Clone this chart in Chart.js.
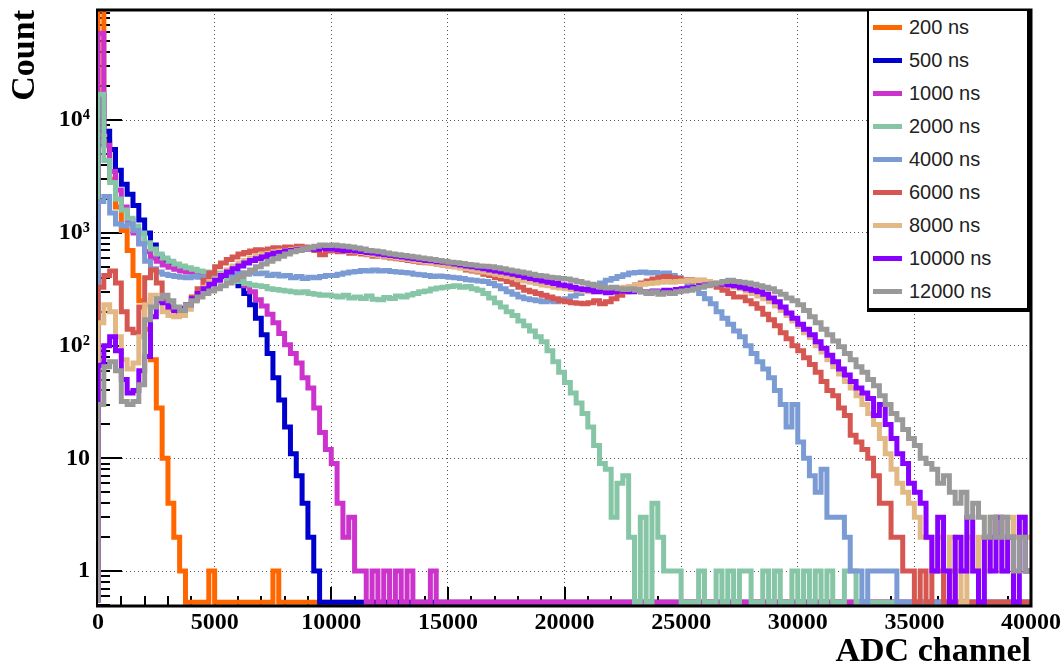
<!DOCTYPE html>
<html>
<head>
<meta charset="utf-8">
<script src="https://cdn.jsdelivr.net/npm/chart.js@4.4.1/dist/chart.umd.min.js"></script>
<style>
  html, body { margin: 0; padding: 0; background: #fff; }
  #wrap { position: relative; width: 1064px; height: 669px; }
  #legend {
    position: absolute; left: 867px; top: 9px; width: 158px; height: 297px;
    border-style: solid; border-color: #000; border-width: 2px 4px 4px 2px;
    background: #fff; font-family: "Liberation Sans", Arial, sans-serif;
    font-size: 20px; color: #222;
  }
  .item { height: 33px; display: flex; align-items: center; white-space: nowrap; }
  .swatch { width: 29px; height: 5px; margin-left: 4px; margin-right: 7px; flex: none; }
</style>
</head>
<body>
<div id="wrap">
  <canvas id="chart" width="1064" height="669"></canvas>
  <div id="legend"></div>
</div>
<script>
// ---------------- data ----------------
const binWidth = 250;          // ADC channels per histogram bin
const xMin = 0, xMax = 40000;
const yAxisMin = 0.5, yAxisMax = 95000;
const emptyBinLevel = 0.53;    // ROOT draws empty bins on the bottom of the frame

const seriesLabels = ['200 ns', '500 ns', '1000 ns', '2000 ns', '4000 ns', '6000 ns', '8000 ns', '10000 ns', '12000 ns'];
const seriesColors = ['#ff6600', '#0000cc', '#cc33cc', '#86c5a5', '#7b9bd5', '#d65752', '#e2b985', '#8800ff', '#999999'];

const xTickLabels = [0, 5000, 10000, 15000, 20000, 25000, 30000, 35000, 40000];
const yDecadeLabels = { 1: '1', 10: '10', 100: '10\u00B2', 1000: '10\u00B3', 10000: '10\u2074' };

const s200 = [
150000,6500,3000,1700,1050,700,420,250,140,75,28,10,4,2,1,0,0,0,0,1,
0,0,0,0,0,0,0,0,0,0,1,0,0,0,0,0,0,0,0,0,
0,0,0,0,0,0,0,0,0,0,0,0,0,0,0,0,0,0,0,0,
0,0,0,0,0,0,0,0,0,0,0,0,0,0,0,0,0,0,0,0,
0,0,0,0,0,0,0,0,0,0,0,0,0,0,0,0,0,0,0,0,
0,0,0,0,0,0,0,0,0,0,0,0,0,0,0,0,0,0,0,0,
0,0,0,0,0,0,0,0,0,0,0,0,0,0,0,0,0,0,0,0,
0,0,0,0,0,0,0,0,0,0,0,0,0,0,0,0,0,0,0,0];

const s500 = [
17000,8000,5500,3600,2700,2200,1750,1300,1000,780,620,570,530,500,480,465,450,440,430,425,
420,410,400,380,340,290,230,175,125,85,52,33,19,11,7,4,2,1,0,0,
0,0,0,0,0,0,0,0,0,0,0,0,0,0,0,0,0,0,0,0,
0,0,0,0,0,0,0,0,0,0,0,0,0,0,0,0,0,0,0,0,
0,0,0,0,0,0,0,0,0,0,0,0,0,0,0,0,0,0,0,0,
0,0,0,0,0,0,0,0,0,0,0,0,0,0,0,0,0,0,0,0,
0,0,0,0,0,0,0,0,0,0,0,0,0,0,0,0,0,0,0,0,
0,0,0,0,0,0,0,0,0,0,0,0,0,0,0,0,0,0,0,0];

const s1000 = [
59000,6000,3500,2400,1700,1300,1000,800,680,600,560,520,495,475,460,450,445,440,435,430,
430,420,410,400,380,340,300,255,225,190,160,128,102,85,70,52,42,28,17,12,
9,4,2,3,1,1,0,1,0,1,0,1,0,1,0,0,0,1,0,0,
0,0,0,0,0,0,0,0,0,0,0,0,0,0,0,0,0,0,0,0,
0,0,0,0,0,0,0,0,0,0,0,0,0,0,0,0,0,0,0,0,
0,0,0,0,0,0,0,0,0,0,0,0,0,0,0,0,0,0,0,0,
0,0,0,0,0,0,0,0,0,0,0,0,0,0,0,0,0,0,0,0,
0,0,0,0,0,0,0,0,0,0,0,0,0,0,0,0,0,0,0,0];

const s2000 = [
17000,4400,2800,2000,1600,1350,1150,1000,820,720,650,600,560,530,510,490,475,460,450,445,
440,420,400,380,370,355,345,340,335,320,315,310,305,300,295,300,290,285,280,282,
275,270,280,265,270,262,275,258,255,268,262,275,270,282,290,300,305,318,325,330,
335,340,330,335,320,310,290,265,240,220,200,185,165,150,135,120,108,90,72,58,
47,38,31,25,19,13,9,8,3,6,7,2,0,3,0,4,2,1,1,1,
0,0,0,1,0,0,1,0,1,0,1,1,0,0,1,0,1,0,0,1,
0,1,0,1,0,1,0,0,1,1,0,0,0,0,0,0,0,0,0,0,
0,0,0,0,0,0,0,0,0,0,0,0,0,0,0,0,0,0,0,0];

const s4000 = [
1900,2100,1500,1200,1150,1200,1050,800,560,480,450,430,420,410,405,400,410,405,400,410,
415,420,430,425,440,430,445,435,440,420,430,415,420,400,410,395,405,400,410,420,
420,430,440,450,455,465,460,470,460,465,455,450,445,440,430,425,420,410,415,410,
405,400,395,385,380,375,370,355,340,320,300,285,270,260,255,250,245,250,245,255,
260,275,290,310,330,345,360,380,395,410,425,440,445,450,440,445,435,440,420,400,
380,350,320,290,260,235,200,175,155,135,120,100,85,72,62,52,40,30,19,30,
14,10,7,5,8,3,3,3,2,1,1,0,1,1,1,1,1,0,0,0,
0,0,0,0,0,0,0,0,0,0,0,0,0,0,0,0,0,0,0,0];

const s6000 = [
330,420,460,360,200,140,130,220,400,470,360,250,210,195,200,230,270,320,380,440,
500,540,580,610,650,670,690,710,700,720,740,730,750,740,760,750,720,700,640,690,
700,680,690,660,670,650,640,620,630,610,600,590,580,570,560,550,545,540,530,520,
510,500,490,470,460,450,430,420,400,390,370,350,330,310,300,290,280,270,260,250,
245,240,238,235,240,250,235,245,260,280,300,320,345,360,375,390,400,410,400,395,
380,385,375,380,370,350,330,310,290,270,270,250,235,215,190,170,150,130,115,100,
90,78,68,58,48,40,36,28,24,16,14,12,10,7,4,4,2,2,1,1,
0,1,0,1,1,0,1,0,0,0,0,0,0,0,0,0,0,0,0,0];

const s8000 = [
160,230,200,120,75,62,70,120,230,280,260,200,185,180,185,210,250,290,330,370,
390,430,470,510,540,570,600,620,650,660,680,690,700,710,720,730,725,740,730,735,
720,710,700,690,680,670,650,640,630,620,610,600,590,580,570,560,550,545,530,520,
510,500,490,480,470,460,450,440,430,420,410,400,385,375,365,355,345,340,330,325,
320,315,310,305,300,305,300,310,315,320,330,335,345,350,355,360,365,370,365,370,
375,380,375,380,370,360,360,350,340,330,320,305,290,275,260,245,225,205,185,165,
148,130,118,100,88,75,65,56,48,42,36,30,25,20,15,11,8,6,5,4,
3,2,2,1,2,1,2,1,0,2,1,2,1,3,2,1,3,2,3,2];

const s10000 = [
67,100,120,90,50,38,40,60,80,180,250,240,220,205,215,230,260,290,320,350,
380,420,450,480,510,540,570,590,610,640,660,670,690,700,710,720,730,715,735,725,
720,710,700,705,690,685,670,665,650,640,630,620,610,600,590,580,570,565,555,550,
540,530,520,510,500,490,480,470,460,450,440,430,420,405,395,385,375,365,355,345,
340,330,320,315,310,300,305,295,300,310,305,300,310,300,295,305,300,310,305,315,
320,325,330,340,345,350,355,350,345,340,330,320,310,300,285,265,245,220,195,175,
155,140,125,108,95,82,72,62,55,48,42,38,34,24,30,20,15,11,9,6,
5,4,2,1,3,1,0,2,1,3,1,0,2,1,3,1,2,0,3,1];

const s12000 = [
30,65,72,60,32,30,32,45,170,220,260,280,250,220,205,230,250,270,290,305,
320,340,360,385,410,440,470,500,530,560,590,620,650,680,700,720,740,760,780,775,
780,770,760,750,735,720,700,690,680,665,650,640,630,620,610,600,590,580,570,560,
550,545,535,525,520,510,505,500,490,480,470,460,450,440,430,420,415,405,400,395,
390,380,370,360,350,340,330,325,330,320,315,320,310,300,290,300,285,295,290,300,
305,310,320,330,340,350,360,370,380,370,365,360,350,340,330,320,300,285,265,250,
230,205,180,160,140,125,110,98,85,75,65,58,50,44,36,30,25,22,18,15,
13,10,9,8,6,7,5,4,5,3,4,3,2,3,2,3,2,1,2,1];

const seriesCounts = [s200, s500, s1000, s2000, s4000, s6000, s8000, s10000, s12000];

// ---------------- helpers ----------------
function histogramPoints(counts) {
  const pts = [{ x: xMin, y: emptyBinLevel }];
  counts.forEach((c, i) => pts.push({ x: xMin + i * binWidth, y: c > 0 ? c : emptyBinLevel }));
  const last = counts[counts.length - 1];
  pts.push({ x: xMin + counts.length * binWidth, y: last > 0 ? last : emptyBinLevel });
  return pts;
}

const xTickValues = [];
for (let v = xMin; v <= xMax; v += 1000) xTickValues.push(v);
const yTickValues = [];
[0.1, 1, 10, 100, 1000, 10000].forEach(d => {
  for (let m = 1; m <= 9; m++) {
    const v = +(m * d).toPrecision(6);
    if (v >= yAxisMin && v <= yAxisMax) yTickValues.push(v);
  }
});

const serif = '"Liberation Serif", "Times New Roman", serif';

// ROOT-style frame and inner tick marks
const rootFrame = {
  id: 'rootFrame',
  beforeDatasetsDraw(chart) {
    const { ctx, chartArea: a, scales: { x, y } } = chart;
    ctx.save();
    ctx.strokeStyle = '#000';
    ctx.lineWidth = 2;
    ctx.beginPath();
    ctx.moveTo(a.left - 1, a.top); ctx.lineTo(a.left - 1, a.bottom);
    y.ticks.forEach(t => {
      const py = Math.round(y.getPixelForValue(t.value));
      const len = yDecadeLabels[t.value] !== undefined ? 24 : 12;
      ctx.moveTo(a.left, py); ctx.lineTo(a.left + len, py);
    });
    x.ticks.forEach(t => {
      if (t.value <= xMin || t.value >= xMax) return;
      const px = Math.round(x.getPixelForValue(t.value));
      const len = t.value % 5000 === 0 ? 18 : 9;
      ctx.moveTo(px, a.bottom); ctx.lineTo(px, a.bottom - len);
    });
    ctx.stroke();
    ctx.restore();
  },
  afterDatasetsDraw(chart) {
    const { ctx, chartArea: a } = chart;
    ctx.save();
    ctx.strokeStyle = '#000';
    ctx.lineWidth = 3;
    ctx.beginPath();
    ctx.moveTo(a.left - 2, a.top); ctx.lineTo(a.right + 1.5, a.top);
    ctx.moveTo(a.right, a.top); ctx.lineTo(a.right, a.bottom + 1.5);
    ctx.moveTo(a.left - 2, a.bottom + 1); ctx.lineTo(a.right + 1.5, a.bottom + 1);
    ctx.stroke();
    ctx.restore();
  }
};

// ---------------- chart ----------------
new Chart(document.getElementById('chart'), {
  type: 'line',
  data: {
    datasets: seriesCounts.map((counts, i) => ({
      label: seriesLabels[i],
      data: histogramPoints(counts),
      borderColor: seriesColors[i],
      backgroundColor: seriesColors[i],
      borderWidth: 5,
      pointRadius: 0,
      pointHoverRadius: 0,
      stepped: true,
      tension: 0,
      fill: false,
      borderJoinStyle: 'miter',
      borderCapStyle: 'butt',
      order: seriesCounts.length - 1 - i
    }))
  },
  options: {
    responsive: false,
    animation: false,
    events: [],
    layout: { padding: { left: 0, right: 33, top: 10, bottom: 0 } },
    plugins: { legend: { display: false }, tooltip: { enabled: false } },
    scales: {
      x: {
        type: 'linear', min: xMin, max: xMax,
        afterBuildTicks: s => { s.ticks = xTickValues.map(v => ({ value: v })); },
        ticks: {
          autoSkip: false, maxRotation: 0, minRotation: 0, padding: 3, color: '#000',
          font: { family: serif, weight: 'bold', size: 24 },
          callback: v => xTickLabels.includes(v) ? String(v) : ''
        },
        grid: {
          drawTicks: false, color: '#555',
          lineWidth: c => (c.tick && c.tick.value % 5000 === 0 && c.tick.value > xMin && c.tick.value < xMax) ? 1 : 0
        },
        border: { display: false, dash: [1, 3] },
        title: {
          display: true, text: 'ADC channel', align: 'end', color: '#000',
          font: { family: serif, weight: 'bold', size: 34, lineHeight: 1 },
          padding: { top: 0, bottom: 0 }
        },
        afterFit: s => { s.height = 64; s.paddingLeft = 0; s.paddingRight = 0; }
      },
      y: {
        type: 'logarithmic', min: yAxisMin, max: yAxisMax,
        afterBuildTicks: s => { s.ticks = yTickValues.map(v => ({ value: v })); },
        ticks: {
          autoSkip: false, padding: 8, color: '#000',
          font: { family: serif, weight: 'bold', size: 24 },
          callback: v => yDecadeLabels[v] !== undefined ? yDecadeLabels[v] : ''
        },
        grid: {
          drawTicks: false, color: '#555',
          lineWidth: c => (c.tick && yDecadeLabels[c.tick.value] !== undefined) ? 1 : 0
        },
        border: { display: false, dash: [1, 3] },
        title: {
          display: true, text: 'Count', align: 'end', color: '#000',
          font: { family: serif, weight: 'bold', size: 34, lineHeight: 1 },
          padding: { top: 8, bottom: 0 }
        },
        afterFit: s => { s.width = 98; s.paddingTop = 0; s.paddingBottom = 0; }
      }
    }
  },
  plugins: [rootFrame]
});

// ---------------- legend ----------------
const legendEl = document.getElementById('legend');
seriesLabels.forEach((lab, i) => {
  const row = document.createElement('div');
  row.className = 'item';
  const sw = document.createElement('span');
  sw.className = 'swatch';
  sw.style.background = seriesColors[i];
  const tx = document.createElement('span');
  tx.textContent = lab;
  row.appendChild(sw); row.appendChild(tx);
  legendEl.appendChild(row);
});
</script>
</body>
</html>
